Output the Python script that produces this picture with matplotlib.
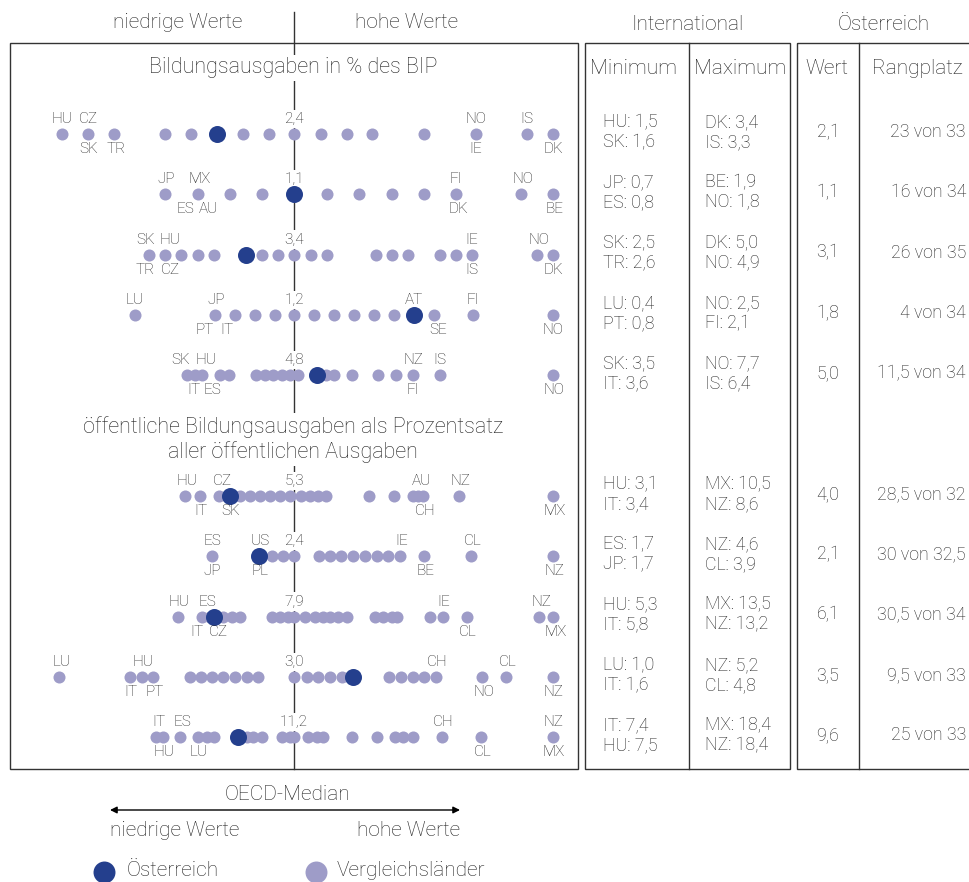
import numpy as np
import matplotlib.pyplot as plt
from matplotlib.patches import Rectangle

plt.rcParams['font.family'] = ['Roboto', 'DejaVu Sans']

W, H = 969, 882
MEDIAN_X = 294
TXT = '#222222'
LINE = '#333333'
DARK = '#243f8d'
LIGHT = '#9e9cc8'

# positions of the countries on each row, relative to the OECD median (0)
dots_1 = [-232, -206, -180, -129, -103, -51, -25, 0, 27, 53, 78, 130, 182, 233, 259]
dots_2 = [-129, -96, -64, -32, 33, 65, 98, 130, 162, 227, 259]
dots_3 = [-145, -129, -113, -96, -80, -32, -16, 0, 17, 33, 82, 98, 114, 146, 162, 178, 243, 259]
dots_4 = [-159, -79, -59, -39, -19, 0, 20, 40, 60, 80, 100, 140, 179, 259]
dots_5 = [-107, -99, -92, -74, -65, -38, -29, -21, -12, -4, 4, 32, 40, 58, 84, 102, 119, 146, 259]
dots_6 = [-109, -94, -75, -54, -44, -34, -24, -14, -4, 7, 16, 24, 32, 75, 100, 119, 124, 129, 165, 259]
dots_7 = [-82, -22, -11, 0, 25, 36, 47, 59, 71, 83, 94, 106, 130, 177, 259]
dots_8 = [-116, -92, -84, -71, -62, -54, -22, -14, -6, 0, 11, 21, 29, 36, 44, 53, 81, 89, 98, 103,
          136, 149, 173, 245, 259]
dots_9 = [-235, -164, -152, -141, -104, -93, -82, -71, -59, -47, -36, 0, 13, 24, 36, 48, 95, 107,
          119, 130, 142, 188, 212, 259]
dots_10 = [-138, -131, -114, -96, -87, -80, -47, -41, -32, -12, -4, 0, 14, 23, 29, 58, 83, 101,
           109, 119, 148, 187, 259]

# Austria on each row
austria = [-77, 0, -48, 120, 23, -64, -35, -80, 59, -56]

medians = ['2,4', '1,1', '3,4', '1,2', '4,8', '5,3', '2,4', '7,9', '3,0', '11,2']

# country labels: (text, position, above/below)
labels_1 = [('HU', -232, 'a'), ('CZ', -206, 'a'), ('SK', -205, 'b'), ('TR', -178, 'b'),
            ('NO', 182, 'a'), ('IE', 182, 'b'), ('IS', 233, 'a'), ('DK', 259, 'b')]
labels_2 = [('JP', -128, 'a'), ('MX', -94, 'a'), ('ES', -109, 'b'), ('AU', -86, 'b'),
            ('FI', 162, 'a'), ('DK', 164, 'b'), ('NO', 229, 'a'), ('BE', 261, 'b')]
labels_3 = [('SK', -148, 'a'), ('HU', -124, 'a'), ('TR', -149, 'b'), ('CZ', -124, 'b'),
            ('IE', 178, 'a'), ('IS', 178, 'b'), ('NO', 245, 'a'), ('DK', 259, 'b')]
labels_4 = [('LU', -159, 'a'), ('JP', -78, 'a'), ('PT', -89, 'b'), ('IT', -67, 'b'),
            ('AT', 120, 'a'), ('SE', 144, 'b'), ('FI', 179, 'a'), ('NO', 259, 'b')]
labels_5 = [('SK', -113, 'a'), ('HU', -88, 'a'), ('IT', -100, 'b'), ('ES', -82, 'b'),
            ('NZ', 120, 'a'), ('IS', 146, 'a'), ('FI', 119, 'b'), ('NO', 260, 'b')]
labels_6 = [('HU', -107, 'a'), ('CZ', -72, 'a'), ('IT', -93, 'b'), ('SK', -63, 'b'),
            ('AU', 127, 'a'), ('CH', 131, 'b'), ('NZ', 167, 'a'), ('MX', 261, 'b')]
labels_7 = [('ES', -82, 'a'), ('JP', -82, 'b'), ('US', -34, 'a'), ('PL', -34, 'b'),
            ('IE', 108, 'a'), ('BE', 132, 'b'), ('CL', 179, 'a'), ('NZ', 261, 'b')]
labels_8 = [('HU', -115, 'a'), ('ES', -87, 'a'), ('IT', -97, 'b'), ('CZ', -76, 'b'),
            ('IE', 150, 'a'), ('CL', 174, 'b'), ('NZ', 248, 'a'), ('MX', 262, 'b')]
labels_9 = [('LU', -232, 'a'), ('HU', -151, 'a'), ('IT', -163, 'b'), ('PT', -139, 'b'),
            ('CH', 143, 'a'), ('NO', 190, 'b'), ('CL', 214, 'a'), ('NZ', 260, 'b')]
labels_10 = [('IT', -135, 'a'), ('ES', -112, 'a'), ('HU', -130, 'b'), ('LU', -95, 'b'),
             ('CH', 149, 'a'), ('CL', 189, 'b'), ('NZ', 260, 'a'), ('MX', 260, 'b')]

# table values
minimum = [('HU: 1,5', 'SK: 1,6'), ('JP: 0,7', 'ES: 0,8'), ('SK: 2,5', 'TR: 2,6'),
           ('LU: 0,4', 'PT: 0,8'), ('SK: 3,5', 'IT: 3,6'), ('HU: 3,1', 'IT: 3,4'),
           ('ES: 1,7', 'JP: 1,7'), ('HU: 5,3', 'IT: 5,8'), ('LU: 1,0', 'IT: 1,6'),
           ('IT: 7,4', 'HU: 7,5')]
maximum = [('DK: 3,4', 'IS: 3,3'), ('BE: 1,9', 'NO: 1,8'), ('DK: 5,0', 'NO: 4,9'),
           ('NO: 2,5', 'FI: 2,1'), ('NO: 7,7', 'IS: 6,4'), ('MX: 10,5', 'NZ: 8,6'),
           ('NZ: 4,6', 'CL: 3,9'), ('MX: 13,5', 'NZ: 13,2'), ('NZ: 5,2', 'CL: 4,8'),
           ('MX: 18,4', 'NZ: 18,4')]
wert = ['2,1', '1,1', '3,1', '1,8', '5,0', '4,0', '2,1', '6,1', '3,5', '9,6']
rang = ['23 von 33', '16 von 34', '26 von 35', '4 von 34', '11,5 von 34', '28,5 von 32',
        '30 von 32,5', '30,5 von 34', '9,5 von 33', '25 von 33']

all_dots = [dots_1, dots_2, dots_3, dots_4, dots_5, dots_6, dots_7, dots_8, dots_9, dots_10]
all_labels = [labels_1, labels_2, labels_3, labels_4, labels_5,
              labels_6, labels_7, labels_8, labels_9, labels_10]

row_y = [134 + 60.3 * i for i in range(5)] + [496 + 60.3 * i for i in range(5)]

fig = plt.figure(figsize=(W / 100, H / 100), dpi=100)
ax = fig.add_axes([0, 0, 1, 1])
ax.set_xlim(0, W)
ax.set_ylim(H, 0)
ax.axis('off')


def box(x0, y0, x1, y1):
    ax.add_patch(Rectangle((x0, y0), x1 - x0, y1 - y0, fill=False, ec=LINE, lw=1.0, zorder=2))


def txt(x, y, s, size, ha='center', **kw):
    ax.text(x, y, s, fontsize=size, ha=ha, va='center', color=TXT, fontweight='light', **kw)


# frames
box(10, 43, 578, 769)
box(585, 43, 790, 769)
ax.plot([689, 689], [43, 769], color=LINE, lw=1.0)
box(797, 43, 990, 769)
ax.plot([859, 859], [43, 769], color=LINE, lw=1.0)

# median line
ax.plot([MEDIAN_X, MEDIAN_X], [12, 769], color=LINE, lw=1.0, zorder=1)

# headers
txt(178, 22, 'niedrige Werte', 15)
txt(407, 22, 'hohe Werte', 15)
txt(688, 24, 'International', 15)
txt(884, 24, 'Österreich', 15)
txt(634, 68, 'Minimum', 15)
txt(740, 68, 'Maximum', 15)
txt(827, 68, 'Wert', 15)
txt(917, 68, 'Rangplatz', 15)

white = dict(fc='white', ec='none', pad=2)
txt(293, 68, 'Bildungsausgaben in % des BIP', 15.5, bbox=white, zorder=3)
txt(293, 427, 'öffentliche Bildungsausgaben als Prozentsatz', 15.5, bbox=white, zorder=3)
txt(293, 452, 'aller öffentlichen Ausgaben', 15.5, bbox=white, zorder=3)

for i, y in enumerate(row_y):
    xs = MEDIAN_X + np.array(all_dots[i])
    ax.scatter(xs, np.full(len(xs), y), s=75, color=LIGHT, lw=0, zorder=4)
    ax.scatter([MEDIAN_X + austria[i]], [y], s=150, color=DARK, lw=0, zorder=5)
    txt(MEDIAN_X, y - 15, medians[i], 11, bbox=dict(fc='white', ec='none', pad=1.5), zorder=3)
    for lab, off, side in all_labels[i]:
        dy = -15 if side == 'a' else 15
        txt(MEDIAN_X + off, y + dy, lab, 11, zorder=6)

    ty = y - 2
    txt(603, ty - 10, minimum[i][0], 12.8, ha='left')
    txt(603, ty + 10, minimum[i][1], 12.8, ha='left')
    txt(705, ty - 10, maximum[i][0], 12.8, ha='left')
    txt(705, ty + 10, maximum[i][1], 12.8, ha='left')
    txt(828, ty, wert[i], 12.8)
    txt(966, ty, rang[i], 12.8, ha='right')

# legend
txt(287, 795, 'OECD-Median', 15)
ax.annotate('', xy=(110, 810), xytext=(460, 810),
            arrowprops=dict(arrowstyle='<|-|>', color='black', lw=1.0,
                            mutation_scale=10, shrinkA=0, shrinkB=0))
txt(110, 830, 'niedrige Werte', 15, ha='left')
txt(460, 830, 'hohe Werte', 15, ha='right')
ax.scatter([104], [872], s=250, color=DARK, lw=0)
ax.scatter([316], [872], s=250, color=LIGHT, lw=0)
txt(127, 871, 'Österreich', 15, ha='left')
txt(337, 871, 'Vergleichsländer', 15, ha='left')

fig.savefig('out.png', dpi=100)
